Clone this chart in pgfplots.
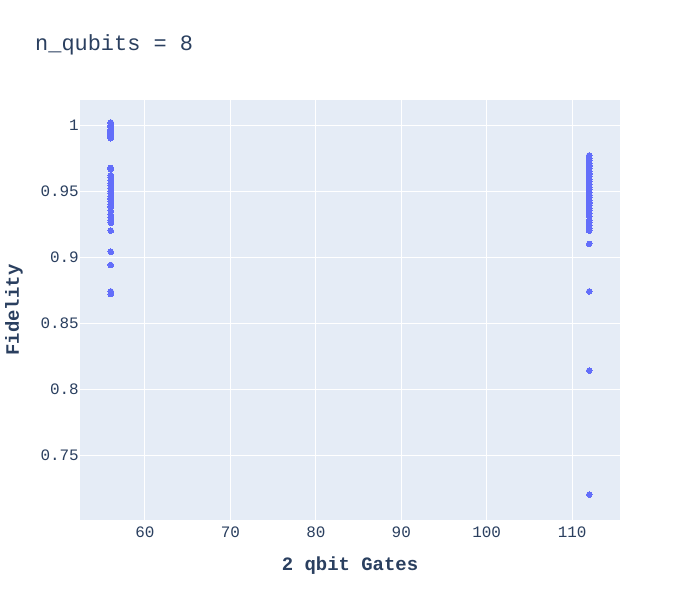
\documentclass[border=0pt]{standalone}
\usepackage{pgfplots}
\pgfplotsset{compat=1.18}
\usepackage{fontspec}
\setmainfont{Liberation Mono}
\definecolor{plotbg}{HTML}{E5ECF6}
\definecolor{pts}{HTML}{636EFA}
\definecolor{txt}{HTML}{2A3F5F}
\begin{document}
\begin{tikzpicture}
\path[use as bounding box, fill=white] (0,0) rectangle (700bp,600bp);
\begin{axis}[
  at={(80bp,80bp)}, anchor=south west,
  scale only axis, width=540bp, height=420bp,
  xmin=52.4, xmax=115.6, ymin=0.7008, ymax=1.019,
  axis background/.style={fill=plotbg},
  axis line style={draw=none},
  major tick length=0pt,
  grid=major, major grid style={white, line width=1bp},
  xtick={60,70,80,90,100,110},
  ytick={0.75,0.8,0.85,0.9,0.95,1},
  /pgf/number format/assume math mode=true,
  tick label style={font=\fontsize{16}{19}\selectfont, text=txt},
  xticklabel style={anchor=north, inner sep=0pt, yshift=-7bp},
  yticklabel style={anchor=east, inner sep=0pt, xshift=-1bp},
]
\addplot[only marks, color=pts, mark=*, mark size=2.8bp, mark options={fill=pts, draw=pts, line width=0pt}] coordinates {
(56,1.002) (56,1.001) (56,1.000) (56,0.999) (56,0.998) (56,0.997) (56,0.996)
(56,0.995) (56,0.994) (56,0.993) (56,0.992) (56,0.991) (56,0.990)
(56,0.9675) (56,0.9665)
(56,0.962) (56,0.960) (56,0.958) (56,0.956) (56,0.954) (56,0.952) (56,0.950)
(56,0.948) (56,0.946) (56,0.944) (56,0.942) (56,0.940) (56,0.938) (56,0.935)
(56,0.932) (56,0.930) (56,0.928) (56,0.926)
(56,0.920) (56,0.904) (56,0.894) (56,0.874) (56,0.872)
(112,0.977) (112,0.975) (112,0.973) (112,0.971) (112,0.969) (112,0.967)
(112,0.965) (112,0.963) (112,0.961) (112,0.959) (112,0.957) (112,0.955)
(112,0.953) (112,0.951) (112,0.949) (112,0.947) (112,0.945) (112,0.943)
(112,0.941) (112,0.939) (112,0.937) (112,0.935) (112,0.933) (112,0.931)
(112,0.928) (112,0.926) (112,0.924) (112,0.922)
(112,0.920) (112,0.910) (112,0.874) (112,0.814) (112,0.720)
};
\end{axis}
\node[anchor=west, text=txt, font=\fontsize{22}{26}\selectfont, inner sep=0pt] at (35bp,555bp) {n\_qubits = 8};
\node[text=txt, font=\fontsize{19}{22}\bfseries\selectfont, inner sep=0pt] at (350bp,34bp) {2 qbit Gates};
\node[text=txt, font=\fontsize{19}{22}\bfseries\selectfont, inner sep=0pt, rotate=90] at (14bp,290bp) {Fidelity};
\end{tikzpicture}
\end{document}
